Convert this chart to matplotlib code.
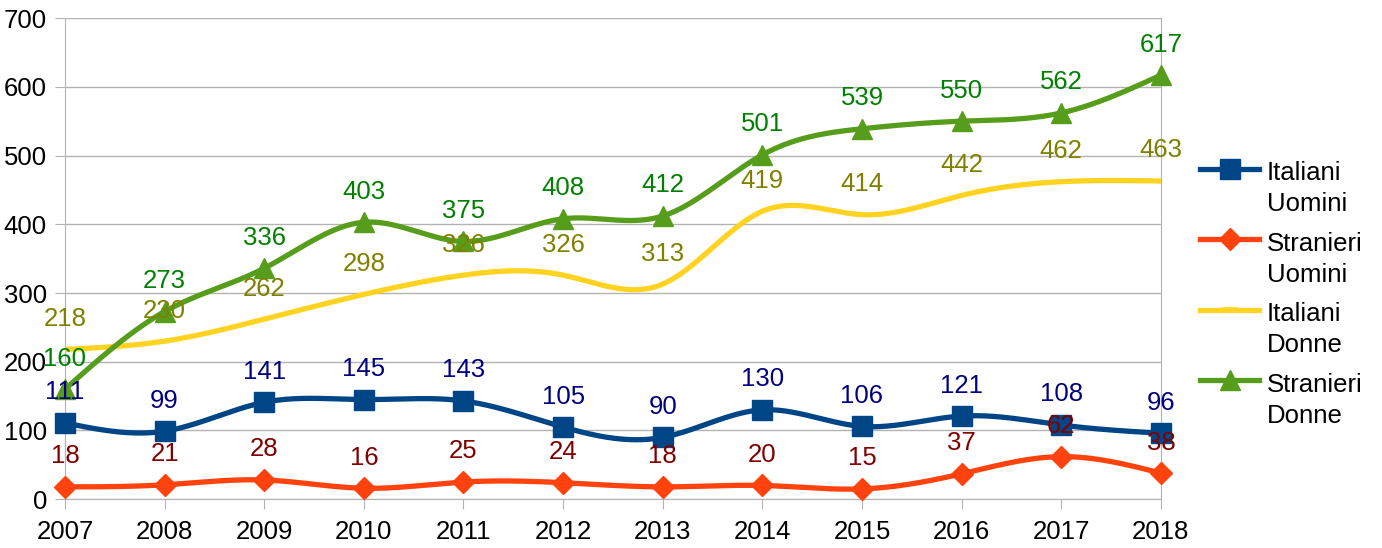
import matplotlib
matplotlib.use("Agg")
import matplotlib.pyplot as plt
from matplotlib.legend_handler import HandlerLine2D
import numpy as np

plt.rcParams['font.family'] = ['Liberation Sans', 'DejaVu Sans']

# Dati
anni = [2007, 2008, 2009, 2010, 2011, 2012, 2013, 2014, 2015, 2016, 2017, 2018]
italiani_uomini = [111, 99, 141, 145, 143, 105, 90, 130, 106, 121, 108, 96]
stranieri_uomini = [18, 21, 28, 16, 25, 24, 18, 20, 15, 37, 62, 38]
italiani_donne = [218, 230, 262, 298, 326, 326, 313, 419, 414, 442, 462, 463]
stranieri_donne = [160, 273, 336, 403, 375, 408, 412, 501, 539, 550, 562, 617]

FS = 18.5


def spline(x, y, n=400):
    # spline cubica naturale, solo per disegnare la curva liscia
    x = np.asarray(x, float)
    y = np.asarray(y, float)
    k = len(x)
    h = np.diff(x)
    A = np.zeros((k, k))
    b = np.zeros(k)
    A[0, 0] = A[-1, -1] = 1
    for i in range(1, k - 1):
        A[i, i - 1] = h[i - 1]
        A[i, i] = 2 * (h[i - 1] + h[i])
        A[i, i + 1] = h[i]
        b[i] = 6 * ((y[i + 1] - y[i]) / h[i] - (y[i] - y[i - 1]) / h[i - 1])
    M = np.linalg.solve(A, b)
    xs = np.linspace(x[0], x[-1], n)
    idx = np.clip(np.searchsorted(x, xs) - 1, 0, k - 2)
    x0, x1 = x[idx], x[idx + 1]
    hh = x1 - x0
    ys = (M[idx] * (x1 - xs) ** 3 / (6 * hh) + M[idx + 1] * (xs - x0) ** 3 / (6 * hh)
          + (y[idx] / hh - M[idx] * hh / 6) * (x1 - xs)
          + (y[idx + 1] / hh - M[idx + 1] * hh / 6) * (xs - x0))
    return xs, ys


# simbolo della legenda allineato alla prima riga del testo
class HandlerTop(HandlerLine2D):
    def create_artists(self, legend, orig_handle, xdescent, ydescent, width, height, fontsize, trans):
        return super().create_artists(legend, orig_handle, xdescent, ydescent - 1.6 * fontsize,
                                      width, height, fontsize, trans)


serie = [
    ("Italiani\nUomini", italiani_uomini, "#004586", "#000080", "s", 14),
    ("Stranieri\nUomini", stranieri_uomini, "#ff420e", "#800000", "D", 11),
    ("Italiani\nDonne", italiani_donne, "#ffd320", "#808000", None, 0),
    ("Stranieri\nDonne", stranieri_donne, "#579d1c", "#008000", "^", 15),
]

fig = plt.figure(figsize=(13.82, 5.48), dpi=100)
ax = fig.add_axes([0.047, 0.089, 0.793, 0.878])

handles = []
for nome, vals, col, col_lab, mk, ms in serie:
    xs, ys = spline(anni, vals)
    ax.plot(xs, ys, color=col, linewidth=3.8, zorder=3, solid_capstyle='round')
    if mk:
        ax.plot(anni, vals, linestyle='none', marker=mk, markersize=ms, color=col,
                zorder=4, clip_on=False)
    h, = ax.plot([], [], color=col, linewidth=3.8, marker=mk if mk else '_',
                 markersize=ms if mk else 12, markeredgewidth=1 if mk else 4)
    handles.append(h)
    for a, v in zip(anni, vals):
        ax.annotate(str(v), (a, v), xytext=(0, 22), textcoords='offset points',
                    ha='center', va='center', color=col_lab, fontsize=FS, zorder=5)

ax.set_xlim(2007, 2018)
ax.set_ylim(0, 700)
ax.set_xticks(anni)
ax.set_yticks(range(0, 701, 100))
ax.grid(axis='y', color='#b3b3b3', linewidth=1)
ax.set_axisbelow(True)
for s in ['left', 'right', 'top', 'bottom']:
    ax.spines[s].set_color('#b3b3b3')
ax.spines['top'].set_visible(False)
ax.tick_params(axis='both', colors='#b3b3b3', labelcolor='black', labelsize=FS, length=7)
ax.tick_params(axis='x', pad=8)
ax.tick_params(axis='y', pad=6)

leg = fig.legend(handles, [s[0] for s in serie], loc='upper left', bbox_to_anchor=(0.861, 0.725),
                 frameon=False, fontsize=FS, handlelength=2.3, labelspacing=0.6,
                 handletextpad=0.3, borderaxespad=0,
                 handler_map={h: HandlerTop() for h in handles})
for t in leg.get_texts():
    t.set_linespacing(1.38)

fig.savefig("out.png", dpi=100)
